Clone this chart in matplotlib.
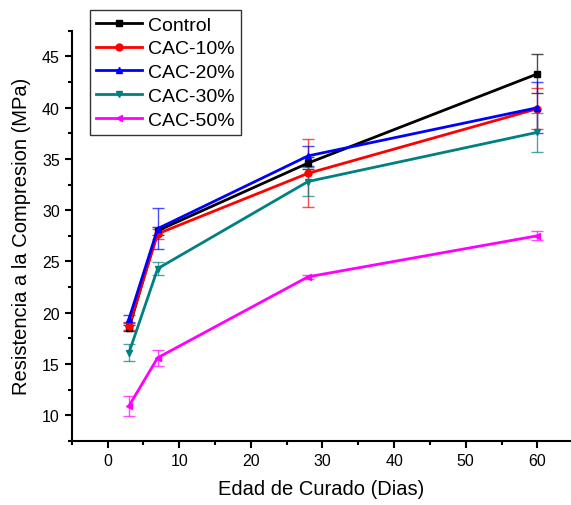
import numpy as np
import matplotlib
matplotlib.use("Agg")
import matplotlib.pyplot as plt
from matplotlib.ticker import MultipleLocator
from matplotlib.lines import Line2D

plt.rcParams['font.family'] = ['Liberation Sans', 'DejaVu Sans']

# curing age (days)
dias = [3, 7, 28, 60]

# compressive strength (MPa) and error bars
control     = [18.5, 28.0, 34.6, 43.3]
control_err = [0.3, 0.4, 0.6, 1.9]
cac10       = [18.7, 27.7, 33.6, 39.9]
cac10_err   = [0.4, 0.5, 3.3, 2.0]
cac20       = [19.4, 28.2, 35.3, 40.0]
cac20_err   = [0.4, 2.0, 1.0, 2.5]
cac30       = [16.1, 24.3, 32.8, 37.6]
cac30_err   = [0.8, 0.6, 1.4, 1.9]
cac50       = [10.9, 15.6, 23.5, 27.5]
cac50_err   = [1.0, 0.8, 0.2, 0.45]

labels  = ["Control", "CAC-10%", "CAC-20%", "CAC-30%", "CAC-50%"]
colores = ["#000000", "#ff0000", "#0000ff", "#008080", "#ff00ff"]
marcas  = ["s", "o", "^", "v", "<"]

series = [(control, control_err), (cac10, cac10_err), (cac20, cac20_err),
          (cac30, cac30_err), (cac50, cac50_err)]

fig = plt.figure(figsize=(5.71, 5.06), dpi=100)
ax = fig.add_axes([0.1256, 0.127, 0.8744, 0.810])

handles = []
for (y, e), lab, c, m in zip(series, labels, colores, marcas):
    h = ax.errorbar(dias, y, yerr=e, color=c, marker=m, markersize=5,
                    linewidth=2, elinewidth=1, capsize=4, capthick=1,
                    ecolor=c)
    for art in list(h[1]) + list(h[2]):
        art.set_alpha(0.7)
    handles.append(Line2D([], [], color=c, marker=m, markersize=5, linewidth=2))

ax.set_xlim(-5, 64.7)
ax.set_ylim(7.5, 47.5)
ax.xaxis.set_major_locator(MultipleLocator(10))
ax.xaxis.set_minor_locator(MultipleLocator(5))
ax.yaxis.set_major_locator(MultipleLocator(5))
ax.yaxis.set_minor_locator(MultipleLocator(2.5))

for s in ["top", "right"]:
    ax.spines[s].set_visible(False)
for s in ["left", "bottom"]:
    ax.spines[s].set_linewidth(1.5)

ax.tick_params(which="major", direction="out", length=5, width=1.5, labelsize=11.5)
ax.tick_params(which="minor", direction="out", length=3, width=1.5)

ax.set_xlabel("Edad de Curado (Dias)", fontsize=14.5, labelpad=8)
ax.set_ylabel("Resistencia a la Compresion (MPa)", fontsize=14.5, labelpad=8)

leg = fig.legend(handles=handles, labels=labels, loc="upper left",
                 bbox_to_anchor=(0.1576, 0.978), fontsize=14,
                 frameon=True, fancybox=False, edgecolor="black",
                 handlelength=2.4, handletextpad=0.3, labelspacing=0.32,
                 borderpad=0.3, borderaxespad=0)
leg.get_frame().set_linewidth(1.0)

fig.savefig("out.png", dpi=100)
